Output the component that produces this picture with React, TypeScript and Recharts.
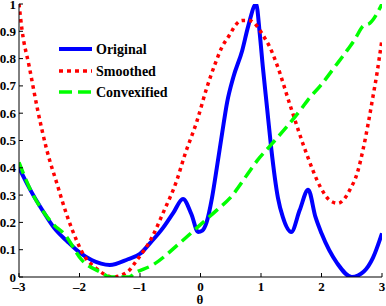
import React from 'react';
import { LineChart, Line, XAxis, YAxis } from 'recharts';

const originalTheta = [-3, -2.79, -2.6, -2.42, -2.2, -2.0, -1.8, -1.5, -1.2, -1.0, -0.83, -0.62, -0.45, -0.29, -0.15, -0.04, 0.03, 0.1, 0.19, 0.27, 0.36, 0.44, 0.54, 0.69, 0.79, 0.92, 0.98, 1.03, 1.1, 1.17, 1.28, 1.36, 1.5, 1.64, 1.78, 1.9, 2.0, 2.26, 2.5, 2.7, 2.85, 3.0];
const originalValues = [0.40, 0.31, 0.24, 0.18, 0.13, 0.09, 0.062, 0.044, 0.065, 0.085, 0.125, 0.18, 0.235, 0.286, 0.23, 0.165, 0.17, 0.2, 0.29, 0.40, 0.53, 0.64, 0.73, 0.83, 0.92, 1.0, 0.89, 0.77, 0.62, 0.47, 0.29, 0.22, 0.165, 0.245, 0.32, 0.22, 0.16, 0.05, 0.0, 0.02, 0.07, 0.16];

const smoothedTheta = [-3, -2.95, -2.83, -2.69, -2.54, -2.37, -2.21, -2.05, -1.93, -1.73, -1.45, -1.21, -1.05, -0.8, -0.62, -0.39, -0.26, -0.06, 0.1, 0.24, 0.35, 0.49, 0.57, 0.69, 0.8, 0.93, 1.02, 1.15, 1.26, 1.48, 1.76, 1.98, 2.14, 2.27, 2.39, 2.47, 2.59, 2.69, 2.77, 2.85, 2.92, 2.98, 3.0];
const smoothedValues = [1.0, 0.905, 0.77, 0.61, 0.465, 0.34, 0.227, 0.135, 0.08, 0.033, 0.0, 0.018, 0.062, 0.146, 0.234, 0.355, 0.447, 0.57, 0.69, 0.78, 0.84, 0.89, 0.92, 0.94, 0.94, 0.92, 0.89, 0.84, 0.78, 0.63, 0.447, 0.33, 0.28, 0.27, 0.29, 0.32, 0.38, 0.47, 0.56, 0.66, 0.75, 0.84, 0.87];

const convexTheta = [-3, -2.79, -2.6, -2.42, -2.26, -1.96, -1.63, -1.5, -1.18, -1.08, -0.79, -0.34, -0.01, 0.27, 0.49, 0.82, 0.95, 1.15, 1.68, 1.78, 1.98, 2.22, 2.39, 2.55, 2.69, 2.8, 3.0];
const convexValues = [0.42, 0.31, 0.24, 0.19, 0.16, 0.062, 0.015, 0.0, 0.0, 0.015, 0.044, 0.125, 0.19, 0.245, 0.29, 0.39, 0.43, 0.48, 0.62, 0.65, 0.70, 0.77, 0.82, 0.87, 0.92, 0.93, 1.0];

const xTicks = [-3, -2, -1, 0, 1, 2, 3];
const yTicks = [0, 0.1, 0.2, 0.3, 0.4, 0.5, 0.6, 0.7, 0.8, 0.9, 1];
const xLabel = 'θ';
const legendLabels = ['Original', 'Smoothed', 'Convexified'];

const zip = (xs: number[], ys: number[]) => xs.map((t, i) => ({ t, v: ys[i] }));
const originalData = zip(originalTheta, originalValues);
const smoothedData = zip(smoothedTheta, smoothedValues);
const convexData = zip(convexTheta, convexValues);

const FONT = 'Liberation Serif';

const fmtX = (v: number) => (v < 0 ? '\u2013' + Math.abs(v) : String(v));

const BottomTick = (props: any) => {
  const { x, y, payload } = props;
  return (
    <g>
      <line x1={x} x2={x} y1={y} y2={y - 4} stroke="#000" strokeWidth={1} />
      <text x={x} y={y + 14} textAnchor="middle" fontFamily={FONT} fontWeight="bold" fontSize={13} fill="#000">
        {fmtX(payload.value)}
      </text>
    </g>
  );
};

const TopTick = (props: any) => {
  const { x, y } = props;
  return <line x1={x} x2={x} y1={y} y2={y + 4} stroke="#000" strokeWidth={1} />;
};

const LeftTick = (props: any) => {
  const { x, y, payload } = props;
  return (
    <g>
      <line x1={x} x2={x + 4} y1={y} y2={y} stroke="#000" strokeWidth={1} />
      <text x={x - 3} y={y + 4.5} textAnchor="end" fontFamily={FONT} fontWeight="bold" fontSize={13} fill="#000">
        {String(Math.round(payload.value * 10) / 10)}
      </text>
    </g>
  );
};

const RightTick = (props: any) => {
  const { x, y } = props;
  return <line x1={x} x2={x - 4} y1={y} y2={y} stroke="#000" strokeWidth={1} />;
};

export default function App() {
  return (
    <div style={{ position: 'relative', width: 386, height: 306 }}>
      <style>{`body{margin:0;background:#fff}`}</style>
      <LineChart width={386} height={306} margin={{ top: 4, right: 4, bottom: 0, left: 0 }}>
        <XAxis xAxisId="b" dataKey="t" type="number" domain={[-3, 3]} ticks={xTicks} orientation="bottom" height={29}
          tickSize={0} tickMargin={0} tickLine={false} axisLine={{ stroke: '#000' }} tick={<BottomTick />} allowDataOverflow interval={0} />
        <XAxis xAxisId="t" dataKey="t" type="number" domain={[-3, 3]} ticks={xTicks} orientation="top" height={0}
          tickSize={0} tickMargin={0} tickLine={false} axisLine={{ stroke: '#000' }} tick={<TopTick />} allowDataOverflow interval={0} />
        <YAxis yAxisId="l" type="number" domain={[0, 1]} ticks={yTicks} orientation="left" width={19}
          tickSize={0} tickMargin={0} tickLine={false} axisLine={{ stroke: '#000' }} tick={<LeftTick />} allowDataOverflow interval={0} />
        <YAxis yAxisId="r" type="number" domain={[0, 1]} ticks={yTicks} orientation="right" width={0}
          tickSize={0} tickMargin={0} tickLine={false} axisLine={{ stroke: '#000' }} tick={<RightTick />} allowDataOverflow interval={0} />
        <Line xAxisId="b" yAxisId="l" data={originalData} dataKey="v" type="monotone" stroke="#0000ff" strokeWidth={4}
          dot={false} isAnimationActive={false} />
        <Line xAxisId="b" yAxisId="l" data={smoothedData} dataKey="v" type="monotone" stroke="#ff0000" strokeWidth={3.5}
          strokeDasharray="3.5 4" dot={false} isAnimationActive={false} />
        <Line xAxisId="b" yAxisId="l" data={convexData} dataKey="v" type="monotone" stroke="#00ff00" strokeWidth={3.5}
          strokeDasharray="12 6" dot={false} isAnimationActive={false} />
      </LineChart>
      <svg width={386} height={306} style={{ position: 'absolute', left: 0, top: 0, pointerEvents: 'none' }}>
        <line x1={59} x2={92} y1={49} y2={49} stroke="#0000ff" strokeWidth={4} />
        <text x={96} y={54} fontFamily={FONT} fontWeight="bold" fontSize={14} fill="#000">{legendLabels[0]}</text>
        <line x1={59} x2={92} y1={71} y2={71} stroke="#ff0000" strokeWidth={3.5} strokeDasharray="4 4" />
        <text x={96} y={76} fontFamily={FONT} fontWeight="bold" fontSize={14} fill="#000">{legendLabels[1]}</text>
        <line x1={59} x2={92} y1={92} y2={92} stroke="#00ff00" strokeWidth={3.5} strokeDasharray="13 6" />
        <text x={96} y={97} fontFamily={FONT} fontWeight="bold" fontSize={14} fill="#000">{legendLabels[2]}</text>
        <text x={200} y={304} textAnchor="middle" fontFamily={FONT} fontWeight="bold" fontSize={13} fill="#000">{xLabel}</text>
      </svg>
    </div>
  );
}
